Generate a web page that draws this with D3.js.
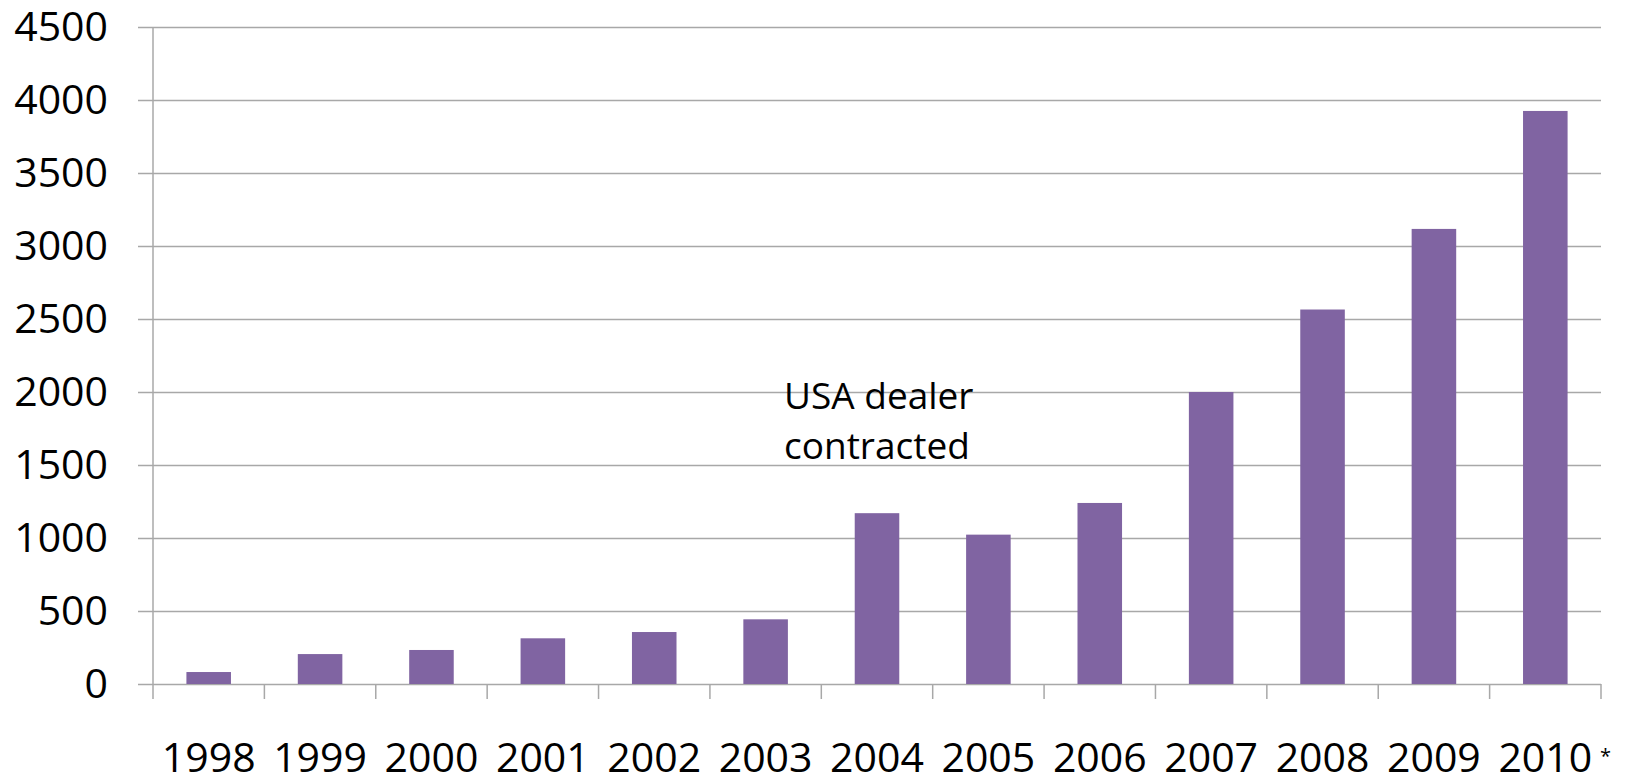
<!DOCTYPE html>
<html>
<head>
<meta charset="utf-8">
<script src="https://cdn.jsdelivr.net/npm/d3@7"></script>
<style>
  html, body { margin: 0; padding: 0; background: #fff; }
  text { font-family: "Open Sans", sans-serif; fill: #000; }
</style>
</head>
<body>
<div id="chart"></div>
<script>
// data
const years = ["1998", "1999", "2000", "2001", "2002", "2003", "2004",
               "2005", "2006", "2007", "2008", "2009", "2010"]
const values = [82, 205, 233, 313, 356, 443, 1170, 1023, 1240, 2000, 2565, 3117, 3925]
const yTicks = [0, 500, 1000, 1500, 2000, 2500, 3000, 3500, 4000, 4500]
const noteLines = ["USA dealer", "contracted"]
const lastYearMark = "*"

const width = 1629, height = 780
const plot = { left: 153, right: 1601, top: 27, bottom: 684 }

const svg = d3.select("#chart").append("svg")
    .attr("width", width)
    .attr("height", height)

// category slots (for ticks) and bars inside them
const xCat = d3.scaleBand().domain(years).range([plot.left, plot.right]).padding(0)
const xBar = d3.scaleBand().domain(years).range([plot.left, plot.right])
    .paddingInner(0.6).paddingOuter(0.3)
const y = d3.scaleLinear().domain([0, 4500]).range([plot.bottom, plot.top])

const gridColor = "#a8a8a8"

// horizontal gridlines + y labels
const yAxis = svg.append("g")
    .attr("transform", "translate(" + plot.left + ",0)")
    .call(d3.axisLeft(y).tickValues(yTicks).tickSize(15).tickPadding(30).tickFormat(d3.format("d")))
yAxis.select(".domain").remove()
yAxis.selectAll(".tick line")
    .attr("x2", plot.right - plot.left)
    .attr("x1", -15)
    .attr("stroke", gridColor)
    .attr("stroke-width", 1.5)
yAxis.selectAll(".tick text")
    .attr("font-size", 41)
    .attr("font-family", "Open Sans")
    .attr("fill", "#000")

// vertical axis line
svg.append("line")
    .attr("x1", plot.left).attr("x2", plot.left)
    .attr("y1", plot.top).attr("y2", plot.bottom + 15)
    .attr("stroke", gridColor)
    .attr("stroke-width", 1.5)

// category ticks under the baseline
svg.append("g").selectAll("line")
    .data(years)
    .join("line")
    .attr("x1", d => xCat(d) + xCat.bandwidth())
    .attr("x2", d => xCat(d) + xCat.bandwidth())
    .attr("y1", plot.bottom)
    .attr("y2", plot.bottom + 15)
    .attr("stroke", gridColor)
    .attr("stroke-width", 1.5)

// bars
svg.append("g").selectAll("rect")
    .data(values)
    .join("rect")
    .attr("x", (d, i) => xBar(years[i]))
    .attr("y", d => y(d))
    .attr("width", xBar.bandwidth())
    .attr("height", d => y(0) - y(d))
    .attr("fill", "#8064a2")

// year labels
svg.append("g").selectAll("text")
    .data(years)
    .join("text")
    .attr("x", d => xBar(d) + xBar.bandwidth() / 2)
    .attr("y", 772)
    .attr("text-anchor", "middle")
    .attr("font-size", 41)
    .text(d => d)

// asterisk after the last year
svg.append("text")
    .attr("x", xCat(years[years.length - 1]) + xCat.bandwidth() - 1)
    .attr("y", 763)
    .attr("font-size", 20)
    .text(lastYearMark)

// annotation
svg.append("text")
    .attr("x", 784)
    .attr("y", 409)
    .attr("font-size", 37)
    .selectAll("tspan")
    .data(noteLines)
    .join("tspan")
    .attr("x", 784)
    .attr("dy", (d, i) => i === 0 ? 0 : 50)
    .text(d => d)
</script>
</body>
</html>
